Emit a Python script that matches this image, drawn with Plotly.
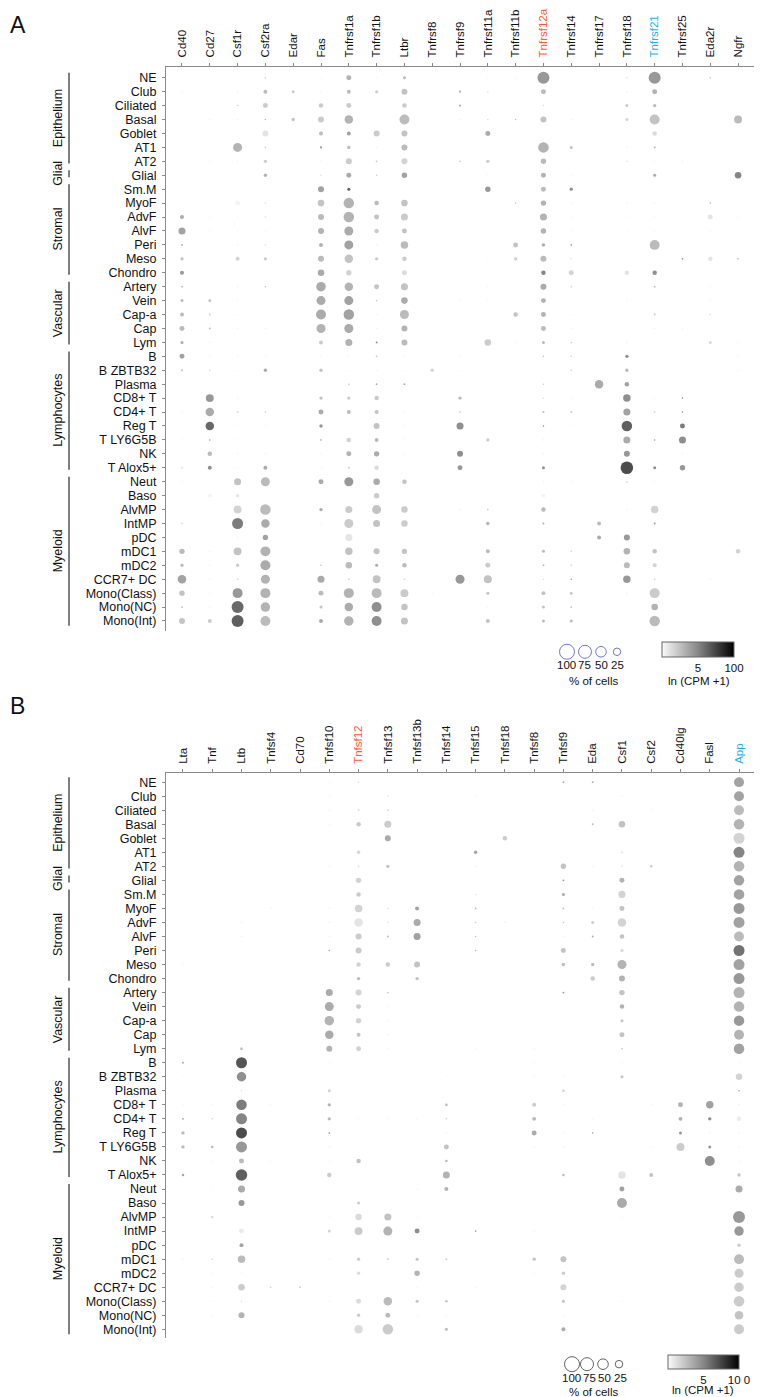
import plotly.graph_objects as go

# The page body has an 8px default margin, so the figure is drawn 8px in from the top-left.
PAGE_W, PAGE_H, OFF = 762, 1397, 8
W, H = PAGE_W - OFF, PAGE_H - OFF

cells = ["NE", "Club", "Ciliated", "Basal", "Goblet", "AT1", "AT2", "Glial", "Sm.M", "MyoF",
         "AdvF", "AlvF", "Peri", "Meso", "Chondro", "Artery", "Vein", "Cap-a", "Cap", "Lym",
         "B", "B ZBTB32", "Plasma", "CD8+ T", "CD4+ T", "Reg T", "T LY6G5B", "NK", "T Alox5+",
         "Neut", "Baso", "AlvMP", "IntMP", "pDC", "mDC1", "mDC2", "CCR7+ DC", "Mono(Class)",
         "Mono(NC)", "Mono(Int)"]
group_names = ["Epithelium", "Glial", "Stromal", "Vascular", "Lymphocytes", "Myeloid"]
group_sizes = [7, 1, 7, 5, 9, 11]

genes_A = ["Cd40", "Cd27", "Csf1r", "Csf2ra", "Edar", "Fas", "Tnfrsf1a", "Tnfrsf1b", "Ltbr",
           "Tnfrsf8", "Tnfrsf9", "Tnfrsf11a", "Tnfrsf11b", "Tnfrsf12a", "Tnfrsf14", "Tnfrsf17",
           "Tnfrsf18", "Tnfrsf21", "Tnfrsf25", "Eda2r", "Ngfr"]
genes_B = ["Lta", "Tnf", "Ltb", "Tnfsf4", "Cd70", "Tnfsf10", "Tnfsf12", "Tnfsf13", "Tnfsf13b",
           "Tnfsf14", "Tnfsf15", "Tnfsf18", "Tnfsf8", "Tnfsf9", "Eda", "Csf1", "Csf2", "Cd40lg",
           "Fasl", "App"]
highlight = {"Tnfrsf12a": "#ff5a32", "Tnfrsf21": "#1eb0ef", "Tnfsf12": "#ff5a32", "App": "#1eb0ef"}

# % of cells expressing (panel A)
pct_A = [
    [0, 0, 0, 1, 0, 0.6, 11, 0.6, 4, 0, 0, 0.6, 0.6, 64, 0, 0, 1, 64, 0, 1, 0],
    [0.6, 0, 0.6, 7, 4, 0.6, 7, 4, 16, 0, 2, 1, 0, 11, 0, 0, 0.6, 11, 0, 0, 0],
    [0, 0, 1, 11, 0, 9, 11, 0, 9, 0, 2, 0, 0, 1, 0, 0, 4, 5, 0, 0, 0],
    [0, 0.6, 0.6, 1, 5, 16, 32, 0, 44, 0, 0.6, 1, 1, 16, 0.6, 0, 4, 44, 0, 0, 28],
    [0, 0, 0, 16, 0, 7, 7, 16, 16, 0, 0, 11, 0, 0, 0, 0, 0, 9, 0, 0, 0],
    [0, 0, 36, 1, 0, 2, 5, 0.6, 16, 0, 0, 0, 0, 49, 4, 0, 0.6, 1.5, 0, 0, 0],
    [0, 0.6, 0.6, 5, 0, 0.6, 16, 1.5, 16, 0, 1.5, 5, 0, 13, 0, 0, 1, 0.6, 0.6, 0, 0],
    [0, 0, 0, 5, 0, 1, 11, 1, 13, 0, 0, 0.6, 0, 11, 0.6, 0, 0, 4, 0, 0, 19],
    [0, 0, 0, 0, 0, 16, 4, 0, 0, 0, 0, 13, 0, 11, 5, 0, 0, 0, 0, 0, 0],
    [0, 0, 11, 1, 0, 19, 49, 9, 19, 0, 0, 0, 1, 13, 0.6, 0, 0.6, 0.6, 0, 1, 0],
    [7, 0.6, 0.6, 1, 0, 16, 49, 11, 22, 0, 0, 0, 0, 22, 0.6, 0, 0.6, 0.6, 0, 11, 0.6],
    [22, 0.6, 0.6, 0.6, 0, 16, 36, 9, 11, 0, 0, 0, 0, 13, 0.6, 0, 0.6, 0.6, 0, 0.6, 0],
    [1.5, 0, 0.6, 1, 0, 7, 36, 0.6, 25, 0, 0, 0, 11, 5, 1.5, 0, 0, 44, 0, 0, 0],
    [5, 0, 7, 5, 0, 16, 32, 5, 9, 0, 0, 0.6, 5, 16, 1, 0, 0, 0, 1.5, 9, 1],
    [7, 0, 0, 0, 0, 19, 13, 0, 11, 0, 0, 0, 0, 9, 11, 0, 9, 9, 0, 0, 0],
    [1.5, 0, 0.6, 1, 0, 40, 32, 11, 22, 0, 0, 0.6, 0, 16, 1, 0, 0, 1.5, 0, 0.6, 0],
    [4, 4, 0.6, 0, 0, 36, 36, 1.5, 19, 0, 0.6, 0.6, 0, 11, 0, 0, 0.6, 0, 0, 0.6, 0],
    [7, 1.5, 0.6, 0, 0, 44, 49, 0.6, 36, 0, 0, 0, 9, 11, 0.6, 0, 0, 1.5, 0, 1, 0],
    [11, 1.5, 0.6, 0.6, 0, 36, 36, 0.6, 16, 0, 0, 0, 0, 11, 0.6, 0, 0, 0.6, 0.6, 0, 0],
    [4, 0.6, 0, 0, 0, 7, 22, 1.5, 16, 0, 0, 19, 0.6, 4, 1, 0, 0.6, 0, 0, 4, 0.6],
    [11, 0.6, 0.6, 0.6, 0, 0.6, 0.6, 1.5, 0.6, 0, 0.6, 0, 0, 1, 1, 0, 5, 0, 0, 0, 0.6],
    [1.5, 1, 0.6, 5, 0, 5, 0.6, 0.6, 0.6, 5, 0.6, 0, 0, 0, 1.5, 0, 5, 0, 0, 0, 0.6],
    [0, 0, 0, 0, 0, 0, 1, 1.5, 1.5, 0, 0, 0, 0, 1, 0, 32, 9, 0, 0, 0, 0],
    [0, 28, 0.6, 0, 0, 5, 5, 9, 0, 0, 5, 0, 0, 1.5, 0.6, 0, 25, 0.6, 1, 0, 0],
    [0.6, 32, 1.5, 1, 0, 11, 7, 7, 0.6, 0, 1, 0, 0, 2, 2, 0, 22, 1.5, 1, 0, 0],
    [0, 32, 0.6, 0.6, 0, 5, 0, 16, 0.6, 0, 22, 0, 0, 1, 0.6, 0, 49, 0, 11, 0, 0],
    [0.6, 1, 0.6, 0, 0, 1.5, 9, 7, 0.6, 0, 0, 5, 0, 0.6, 0, 0, 22, 1, 22, 0, 0],
    [0, 9, 0.6, 0.6, 0, 0.6, 11, 13, 0.6, 0, 16, 0, 0, 0.6, 0, 0, 16, 0, 0.6, 0, 0],
    [1.5, 7, 0.6, 7, 0, 0.6, 1.5, 9, 0, 0, 11, 0, 0, 4, 0, 0, 70, 4, 13, 0, 0],
    [0.6, 0, 22, 36, 0, 11, 36, 19, 9, 0, 0, 0, 0, 0.6, 0.6, 0, 1, 0.6, 0, 0, 0],
    [0, 7, 5, 0, 0, 0, 0, 13, 0, 0, 0, 0, 0, 7, 0, 0, 0, 0, 0, 0, 0],
    [0, 0, 28, 49, 0, 5, 22, 36, 19, 0, 0.6, 1, 0, 9, 0, 0, 0.6, 25, 0, 0, 0],
    [1, 0, 54, 32, 0, 0.6, 36, 22, 19, 0, 0, 5, 0, 1.5, 0, 7, 0, 1.5, 0, 0, 0],
    [0, 0, 0.6, 13, 0, 0, 22, 0, 0, 0, 0, 0, 0, 0, 0, 7, 16, 0, 0, 0, 0],
    [13, 0.6, 28, 44, 0, 0, 25, 16, 13, 0, 0, 7, 0, 4, 1, 0, 19, 9, 0, 0, 9],
    [4, 0.6, 5, 44, 0, 1, 19, 4, 9, 0, 0, 11, 0, 1.5, 1, 0, 16, 7, 0, 0, 0],
    [32, 0.6, 1.5, 36, 0, 22, 1.5, 28, 1.5, 0, 36, 28, 0, 1, 1, 0, 25, 1, 0, 0.6, 0],
    [13, 0.6, 44, 44, 0, 11, 44, 44, 28, 0.6, 0, 4, 0, 7, 4, 0, 0.6, 44, 0, 0, 0],
    [1.5, 0.6, 64, 40, 0, 4, 32, 44, 19, 0, 0, 0.6, 0, 4, 1.5, 0, 0, 19, 0, 0, 0],
    [16, 7, 64, 44, 0, 7, 40, 44, 22, 0, 0, 7, 0, 4, 4, 0, 0, 49, 0, 0, 0],
]
# mean expression, ln(CPM+1) scaled 0-10 (panel A)
expr_A = [
    [0, 0, 0, 3, 0, 1, 4.5, 1, 4, 0, 0, 1, 1, 6, 0, 0, 2, 6, 0, 4, 0],
    [1, 0, 1, 4, 3, 1, 4, 3, 3.5, 0, 5, 2, 0, 4, 0, 0, 1, 4.5, 0, 0, 0],
    [0, 0, 3, 3, 0, 3, 3, 0, 3, 0, 5, 0, 0, 2, 0, 0, 3, 4, 0, 0, 0],
    [0, 1, 1, 4, 3.5, 3, 4.5, 0, 4, 0, 1, 2, 4, 3.5, 1, 0, 2.5, 3.5, 0, 0, 4],
    [0, 0, 0, 1.5, 0, 4, 5.5, 3, 3.5, 0, 0, 5, 0, 0, 0, 0, 0, 2, 0, 0, 0],
    [0, 0, 4.5, 3, 0, 6, 4, 1, 4, 0, 0, 0, 0, 4.5, 3.5, 0, 1, 5, 0, 0, 0],
    [0, 1, 1, 3, 0, 1.5, 3, 3, 2.5, 0, 3, 3, 0, 4, 0, 0, 2, 1, 1, 0, 0],
    [0, 0, 0, 4.5, 0, 2, 5, 3, 5.5, 0, 0, 1, 0, 4.5, 1, 0, 0, 5, 0, 0, 7],
    [0, 0, 0, 0, 0, 5.5, 9, 0, 0, 0, 0, 6, 0, 4, 6.5, 0, 0, 0, 0, 0, 0],
    [0, 0, 0.5, 2, 0, 3.5, 4.5, 4, 3.5, 0, 0, 0, 4, 4.5, 1, 0, 1, 1, 0, 5, 0],
    [5, 1, 1, 2, 0, 4, 4.5, 3.5, 3, 0, 0, 0, 0, 4.5, 1, 0, 1, 1, 0, 1.5, 1],
    [5.5, 1, 1, 1, 0, 4.5, 5, 3, 3.5, 0, 0, 0, 0, 4.5, 1, 0, 1, 1, 0, 1, 0],
    [5, 0, 1, 2, 0, 4.5, 5.5, 1, 4, 0, 0, 0, 3.5, 5, 5, 0, 0, 4, 0, 0, 0],
    [3.5, 0, 2.5, 3, 0, 4, 3.5, 3, 3, 0, 0, 1, 3, 4, 2, 0, 0, 0, 6, 1.5, 5],
    [6, 0, 0, 0, 0, 5, 2.5, 0, 2, 0, 0, 0, 0, 7, 2.5, 0, 1.5, 6.5, 0, 0, 0],
    [4, 0, 1, 4, 0, 5, 4.5, 3.5, 3.5, 0, 0, 1, 0, 5, 3, 0, 0, 4, 0, 1, 0],
    [4, 3.5, 1, 0, 0, 5, 5.5, 3, 5, 0, 1, 1, 0, 4.5, 0, 0, 1, 0, 0, 1, 0],
    [4, 3, 1, 0, 0, 5, 5.5, 1, 4, 0, 0, 0, 3.5, 4.5, 1, 0, 0, 3, 0, 2, 0],
    [4, 4, 1, 1, 0, 4.5, 5, 1, 4.5, 0, 0, 0, 0, 4, 1, 0, 0, 1, 1, 0, 0],
    [5, 1, 0, 0, 0, 3, 4.5, 7, 4, 0, 0, 3, 1, 4, 3, 0, 1, 0, 0, 2, 1],
    [5.5, 1, 1, 1, 0, 1, 1, 3, 1, 0, 1, 0, 0, 4, 3, 0, 6.5, 0, 0, 0, 1],
    [4, 3, 1, 5, 0, 3.5, 1, 1, 1, 2.5, 1, 0, 0, 0, 2, 0, 4, 0, 0, 0, 1],
    [0, 0, 0, 0, 0, 0, 4, 5, 5, 0, 0, 0, 0, 3, 0, 5, 5.5, 0, 0, 0, 0],
    [0, 6, 1, 0, 0, 3.5, 3, 3, 0, 0, 4, 0, 0, 1.5, 1, 0, 6.5, 1, 7, 0, 0],
    [1, 5, 3, 3, 0, 5, 4, 3.5, 1, 0, 4, 0, 0, 4, 3, 0, 5.5, 2.5, 7, 0, 0],
    [0, 8.5, 1, 1, 0, 6, 0, 3.5, 1, 0, 6.5, 0, 0, 7, 1, 0, 9, 0, 7.5, 0, 0],
    [1, 6, 1, 0, 0, 4, 2.5, 4, 1, 0, 0, 3, 0, 1, 0, 0, 5, 6, 6.5, 0, 0],
    [0, 4, 1, 1, 0, 1, 4.5, 5, 1, 0, 6.5, 0, 0, 1, 0, 0, 6, 0, 1, 0, 0],
    [2, 6.5, 1, 5, 0, 1, 3, 2, 0, 0, 6, 0, 0, 6.5, 0, 0, 10, 6.5, 6, 0, 0],
    [1, 0, 3.5, 4, 0, 5, 6, 5, 3.5, 0, 0, 0, 0, 1, 1, 0, 3, 1, 0, 0, 0],
    [0, 0.5, 1.5, 0, 0, 0, 0, 3, 0, 0, 0, 0, 0, 0.5, 0, 0, 0, 0, 0, 0, 0],
    [0, 0, 2.5, 4, 0, 5, 3, 3.5, 3, 0, 1, 4, 0, 4, 0, 0, 1, 2.5, 0, 0, 0],
    [3, 0, 7.5, 5, 0, 1, 3, 3.5, 3, 0, 0, 4.5, 0, 5, 0, 4, 0, 6, 0, 0, 0],
    [0, 0, 1, 5.5, 0, 0, 1.5, 0, 0, 0, 0, 0, 0, 0, 0, 5, 6, 0, 0, 0, 0],
    [4, 1, 3.5, 4.5, 0, 0, 3.5, 3.5, 3.5, 0, 0, 4, 0, 4, 3, 0, 4.5, 3.5, 0, 0, 2.5],
    [4.5, 1, 3, 5, 0, 4, 4, 5, 4, 0, 0, 3, 0, 4, 3, 0, 4, 2.5, 0, 0, 0],
    [5.5, 1, 2, 4.5, 0, 5, 2.5, 3.5, 2, 0, 6, 3.5, 0, 2, 6, 0, 6, 3, 0, 1, 0],
    [3.5, 1, 6, 4.5, 0, 4, 4.5, 4, 3, 1, 0, 3.5, 0, 3.5, 3, 0, 1, 3, 0, 0, 0],
    [4, 1, 8.5, 4.5, 0, 3.5, 5, 6.5, 3.5, 0, 0, 1, 0, 3.5, 3.5, 0, 0, 4.5, 0, 0, 0],
    [3.5, 3, 9, 4, 0, 5, 4.5, 6.5, 3.5, 0, 0, 3.5, 0, 4, 4, 0, 0, 4, 0, 0, 0],
]

# % of cells expressing (panel B)
pct_B = [
    [0, 0, 0, 0, 0, 0.6, 1, 0, 0, 0, 0, 0, 0, 1.5, 1.5, 0, 0, 0, 0, 44],
    [0, 0, 0, 0, 0, 0.6, 0, 1, 0, 0, 0.6, 0, 0, 0, 0, 0.6, 0, 0, 0, 44],
    [0, 0, 0, 0, 0, 0.6, 1.5, 1.5, 0, 0, 0, 0, 0, 0, 0.6, 0, 0.6, 0, 0, 44],
    [0, 0, 0, 0, 0, 0.6, 9, 22, 0, 0, 0, 0, 0, 0, 1.5, 19, 0, 0, 0, 49],
    [0, 0, 0, 0, 0, 0, 0, 16, 0, 0, 0, 9, 0, 0, 0, 0, 0, 0, 0, 54],
    [0, 0, 0, 0, 0, 0, 5, 0, 0, 0, 5, 0, 0, 0, 0, 1, 0, 0, 0, 54],
    [0, 0, 0, 0, 0, 0.6, 1.5, 5, 0, 0, 0.6, 0, 0, 13, 0.6, 1, 3, 0, 0, 49],
    [0, 0, 0, 0, 0, 0, 13, 0, 0, 0, 0, 0, 0, 1.5, 0, 11, 0, 0, 0, 49],
    [0, 0, 0, 0, 0, 0, 9, 0, 0, 0, 1.5, 0, 0, 4, 0, 22, 0, 0, 0, 49],
    [0, 0, 0, 0.6, 0, 0.6, 25, 1, 7, 0, 1.5, 0, 0, 1.5, 0.6, 11, 0, 0, 0, 54],
    [0, 0, 0.6, 0, 0, 0.6, 32, 1, 22, 0, 1, 0.6, 0, 1, 4, 32, 0, 0, 0, 54],
    [0, 0, 0.6, 0, 0, 0.6, 16, 1.5, 22, 0, 1, 0, 0, 0.6, 1.5, 9, 0, 0, 0, 44],
    [0, 0, 0, 0, 0, 1, 16, 0, 0, 0, 1, 0, 0, 11, 0, 5, 0, 0, 0, 54],
    [0.6, 0, 0, 0, 0, 0, 9, 9, 16, 0, 0, 0, 0, 5, 5, 36, 0, 0, 0, 54],
    [0, 0, 0, 0, 0, 0, 5, 0, 5, 0, 0, 0, 0, 0, 9, 16, 0, 0, 0, 54],
    [0, 0, 0, 0, 0, 22, 16, 1.5, 0, 0, 0, 0, 0, 1.5, 0, 13, 0, 0, 0, 54],
    [0, 0, 0, 0, 0, 36, 11, 0.6, 0, 0, 0, 0, 0, 0, 0, 9, 0, 0, 0, 49],
    [0, 0, 0, 0, 0, 40, 13, 0.6, 0, 0, 0, 0, 0, 0, 0, 4, 0, 0, 0, 49],
    [0, 0, 0, 0, 0, 32, 7, 0.6, 0, 0, 0, 0, 0, 0, 0, 11, 0, 0, 0, 44],
    [0, 0, 4, 0, 0, 16, 11, 0.6, 0, 0, 0.6, 0, 0.6, 0, 0, 1.5, 0, 0, 0, 49],
    [1.5, 0, 54, 0, 0, 0.6, 0, 0, 0, 0, 0, 0, 0.6, 0, 0, 0.6, 0, 0, 0, 0.6],
    [0.6, 0, 40, 0, 0, 0, 0, 0, 0, 0.6, 0, 0, 0.6, 0.6, 0, 4, 0, 0, 0, 19],
    [0, 0, 1, 0, 0, 4, 0, 0, 0, 0, 0, 0, 0, 3, 0, 0, 0, 0, 0, 1],
    [0.6, 0.6, 49, 0.6, 0, 5, 0, 0, 0, 3, 0, 0, 7, 0.6, 0, 0, 0.6, 11, 25, 1],
    [1.5, 1, 54, 0, 0, 5, 0.6, 0.6, 0.6, 1, 0, 0, 7, 0, 0.6, 0, 0, 7, 5, 9],
    [5, 0, 54, 0, 0, 1.5, 0, 0, 0, 0.6, 0, 0, 11, 0.6, 1, 0, 0, 4, 0.6, 0.6],
    [5, 3, 54, 0, 0, 0.6, 0, 0, 0, 11, 0, 0, 0.6, 0.6, 0, 0, 0.6, 28, 4, 0.6],
    [0, 0.6, 11, 0.6, 0, 0.6, 9, 0, 0, 3, 0, 0, 0, 0, 0, 0, 0, 0, 44, 0.6],
    [3, 0, 59, 0, 0, 9, 0, 0, 0, 22, 0, 0, 0, 3, 0, 25, 7, 0, 0, 5],
    [0, 0.6, 22, 0, 0, 0, 0, 0, 0.6, 7, 0, 0, 0, 0, 0, 11, 0, 0, 0, 22],
    [0, 0, 16, 0, 0, 0, 4, 0, 0, 0, 0, 0, 0, 0, 0, 44, 0, 0, 0, 0.6],
    [0, 3, 0, 0, 0, 0.6, 19, 22, 0.6, 0, 0, 0, 0, 0, 0, 0.6, 0, 0, 0, 64],
    [0, 0, 11, 0, 0, 4, 28, 36, 11, 0, 1.5, 0, 0.6, 0, 0, 0, 0, 0, 0, 40],
    [0, 0, 7, 0, 0, 0, 0, 0, 0, 0, 0, 0, 0, 0, 0, 0, 0, 0, 0, 5],
    [0.6, 1, 25, 0, 0, 0.6, 5, 1.5, 4, 1.5, 0, 0, 5, 16, 0, 0, 0, 0, 0, 44],
    [0, 0.6, 0.6, 0, 0, 0, 5, 0, 13, 0, 0, 0, 0.6, 5, 0, 0, 0, 0, 0, 36],
    [0, 0.6, 19, 1, 1.5, 0, 0, 0, 0.6, 0, 0.6, 0, 0, 16, 0, 0, 0, 0, 0, 40],
    [0, 0.6, 1, 0, 0, 0.6, 11, 32, 4, 3, 0, 0, 0, 4, 0, 0.6, 0, 0, 0, 49],
    [0, 0.6, 16, 0, 0, 0, 5, 11, 0.6, 0.6, 0, 0, 0, 0.6, 0, 0, 0, 0, 0, 32],
    [0, 0, 0, 0, 0, 0, 32, 49, 0, 4, 0, 0, 0, 7, 0, 0, 0, 0, 0, 44],
]
# mean expression, ln(CPM+1) scaled 0-10 (panel B)
expr_B = [
    [0, 0, 0, 0, 0, 1, 2, 0, 0, 0, 0, 0, 0, 5, 5, 0, 0, 0, 0, 5.5],
    [0, 0, 0, 0, 0, 1, 0, 1.5, 0, 0, 1, 0, 0, 0, 0, 1, 0, 0, 0, 5.5],
    [0, 0, 0, 0, 0, 1, 2.5, 2.5, 0, 0, 0, 0, 0, 0, 1, 0, 1, 0, 0, 4],
    [0, 0, 0, 0, 0, 1, 3, 3, 0, 0, 0, 0, 0, 0, 4, 3.5, 0, 0, 0, 4.5],
    [0, 0, 0, 0, 0, 0, 0, 5, 0, 0, 0, 3, 0, 0, 0, 0, 0, 0, 0, 2.5],
    [0, 0, 0, 0, 0, 0, 2.5, 0, 0, 0, 5.5, 0, 0, 0, 0, 3, 0, 0, 0, 7],
    [0, 0, 0, 0, 0, 1, 2, 3.5, 0, 0, 1, 0, 0, 3.5, 1, 2, 3, 0, 0, 4.5],
    [0, 0, 0, 0, 0, 0, 2.5, 0, 0, 0, 0, 0, 0, 6, 0, 4.5, 0, 0, 0, 5.5],
    [0, 0, 0, 0, 0, 0, 3, 0, 0, 0, 1, 0, 0, 5, 0, 2.5, 0, 0, 0, 5.5],
    [0, 0, 0, 1, 0, 1, 2.5, 2, 5.5, 0, 4, 0, 0, 4, 1, 3.5, 0, 0, 0, 6],
    [0, 0, 1, 0, 0, 1, 1.5, 2, 5, 0, 3, 1, 0, 3.5, 3, 2.5, 0, 0, 0, 5.5],
    [0, 0, 1, 0, 0, 1, 3, 4, 5.5, 0, 4, 0, 0, 1, 5, 3.5, 0, 0, 0, 4],
    [0, 0, 0, 0, 0, 6, 3, 0, 0, 0, 4, 0, 0, 3.5, 0, 2, 0, 0, 0, 8],
    [1, 0, 0, 0, 0, 0, 2.5, 3, 3.5, 0, 0, 0, 0, 4, 4, 4.5, 0, 0, 0, 5.5],
    [0, 0, 0, 0, 0, 0, 4, 0, 3.5, 0, 0, 0, 0, 0, 3, 4.5, 0, 0, 0, 6],
    [0, 0, 0, 0, 0, 5, 2.5, 3, 0, 0, 0, 0, 0, 6, 0, 3.5, 0, 0, 0, 4.5],
    [0, 0, 0, 0, 0, 5, 3, 1, 0, 0, 0, 0, 0, 0, 0, 4.5, 0, 0, 0, 4.5],
    [0, 0, 0, 0, 0, 4.5, 2.5, 1, 0, 0, 0, 0, 0, 0, 0, 3.5, 0, 0, 0, 6],
    [0, 0, 0, 0, 0, 5, 3.5, 1, 0, 0, 0, 0, 0, 0, 0, 3.5, 0, 0, 0, 4.5],
    [0, 0, 3.5, 0, 0, 4.5, 2.5, 1, 0, 0, 1, 0, 1, 0, 0, 3, 0, 0, 0, 5.5],
    [5, 0, 9.5, 0, 0, 1, 0, 0, 0, 0, 0, 0, 1, 0, 0, 1, 0, 0, 0, 1],
    [1, 0, 6.5, 0, 0, 0, 0, 0, 0, 1, 0, 0, 1, 1, 0, 3.5, 0, 0, 0, 2.5],
    [0, 0, 2, 0, 0, 2.5, 0, 0, 0, 0, 0, 0, 0, 2.5, 0, 0, 0, 0, 0, 6],
    [1, 1, 7.5, 1, 0, 4.5, 0, 0, 0, 4, 0, 0, 3, 1, 0, 0, 1, 4.5, 5.5, 1],
    [5.5, 3, 7, 0, 0, 4, 1, 1, 1, 3, 0, 0, 4, 0, 1, 0, 0, 4.5, 6.5, 1],
    [4, 0, 10, 0, 0, 5.5, 0, 0, 0, 1, 0, 0, 5, 1, 6, 0, 0, 6, 1, 1],
    [4, 4, 6, 0, 0, 1, 0, 0, 0, 3.5, 0, 0, 1, 1, 0, 0, 1, 3, 6, 1],
    [0, 1, 4, 1, 0, 1, 3.5, 0, 0, 4, 0, 0, 0, 0, 0, 0, 0, 0, 6.5, 1],
    [5, 0, 9, 0, 0, 3, 0, 0, 0, 4.5, 0, 0, 0, 4, 0, 1.5, 3.5, 0, 0, 3.5],
    [0, 1, 5, 0, 0, 0, 0, 0, 1, 4.5, 0, 0, 0, 0, 0, 5.5, 0, 0, 0, 5],
    [0, 0, 6, 0, 0, 0, 3, 0, 0, 0, 0, 0, 0, 0, 0, 5, 0, 0, 0, 0.5],
    [0, 2, 0, 0, 0, 1, 2, 3.5, 1, 0, 0, 0, 0, 0, 0, 1, 0, 0, 0, 6],
    [0, 0, 1, 0, 0, 2.5, 3, 4.5, 6.5, 0, 5.5, 0, 1, 0, 0, 0, 0, 0, 0, 6],
    [0, 0, 5.5, 0, 0, 0, 0, 0, 0, 0, 0, 0, 0, 0, 0, 0, 0, 0, 0, 3],
    [1, 3, 4, 0, 0, 1, 3, 3, 3.5, 3.5, 0, 0, 3.5, 3.5, 0, 0, 0, 0, 0, 4],
    [0, 1, 1, 0, 0, 0, 2, 0, 4.5, 0, 0, 0, 1, 3, 0, 0, 0, 0, 0, 3],
    [0, 1, 3, 3, 3, 0, 0, 0, 1, 0, 1, 0, 0, 2.5, 0, 0, 0, 0, 0, 3],
    [0, 1, 2, 0, 0, 1, 2, 4, 3.5, 3.5, 0, 0, 0, 3.5, 0, 1, 0, 0, 0, 3],
    [0, 1, 4.5, 0, 0, 0, 3, 4, 1, 1, 0, 0, 0, 1, 0, 0, 0, 0, 0, 3.5],
    [0, 0, 0, 0, 0, 0, 2, 3, 0, 4, 0, 0, 0, 5, 0, 0, 0, 0, 0, 3],
]

legend_pcts = [100, 75, 50, 25]
legend_labels = ["100", "75", "50", "25"]

# ---------------- styling / layout constants ----------------
FONT = "Liberation Sans, Arial, Helvetica, sans-serif"
SCALE = [[0, "rgb(250,250,250)"], [0.5, "rgb(135,135,135)"], [1, "rgb(0,0,0)"]]
MAXD = 15.0  # px diameter of a 100% dot
SIZEREF = 2.0 * 100 / MAXD ** 2
AXC = "#8a8a8a"


def px_x(p):
    # page pixel -> paper fraction
    return (p - OFF) / W


def px_y(p):
    return 1 - (p - OFF) / H


panels = {
    "A": dict(genes=genes_A, P=pct_A, C=expr_A, xa="x", ya="y", xdom=(166, 762), ydom=(60, 627),
              xr=(-0.575, 20.86), yr=(39.71, -0.79), letter_y=18,
              cb=dict(cx=698, top=638, len=72, th=15, ticks=["5", "100"]),
              leg=dict(xs=[567, 585, 601, 617], y=648, lxs=[566, 584, 601, 617], ly=661, py=677,
                       pcx=593, lnx=699, lny=677, col="#3b3bc4")),
    "B": dict(genes=genes_B, P=pct_B, C=expr_B, xa="x2", ya="y2", xdom=(166, 756), ydom=(770, 1338),
              xr=(-0.58, 19.58), yr=(39.64, -0.64), letter_y=702,
              cb=dict(cx=703.5, top=1355, len=71, th=14, ticks=["5", "10 0"]),
              leg=dict(xs=[572, 587, 603, 619], y=1364, lxs=[571, 589, 604, 620], ly=1378, py=1392,
                       pcx=593, lnx=703, lny=1390, col="#222222")),
}

fig = go.Figure()
shapes, annotations = [], []
layout_axes = {}

for key, pn in panels.items():
    genes, P, C = pn["genes"], pn["P"], pn["C"]
    xs, ys, ss, cs = [], [], [], []
    for i, cell in enumerate(cells):
        for j, g in enumerate(genes):
            if P[i][j] > 0:
                xs.append(g)
                ys.append(cell)
                ss.append(P[i][j])
                cs.append(C[i][j])
    cb = pn["cb"]
    fig.add_trace(go.Scatter(
        x=xs, y=ys, mode="markers", xaxis=pn["xa"], yaxis=pn["ya"], showlegend=False,
        hoverinfo="skip", cliponaxis=False,
        marker=dict(size=ss, sizemode="area", sizeref=SIZEREF, color=cs, cmin=0, cmax=10,
                    colorscale=SCALE, line=dict(width=0), showscale=True,
                    colorbar=dict(orientation="h", x=px_x(cb["cx"]), xanchor="center", xref="paper",
                                  y=px_y(cb["top"]), yanchor="top", yref="paper",
                                  len=cb["len"], lenmode="pixels", thickness=cb["th"],
                                  thicknessmode="pixels", xpad=0, ypad=0,
                                  outlinewidth=1, outlinecolor="#666",
                                  tickvals=[5, 10], ticktext=cb["ticks"], ticks="",
                                  tickfont=dict(family=FONT, size=11.5, color="#111")))))

    xname = "xaxis" if pn["xa"] == "x" else "xaxis2"
    yname = "yaxis" if pn["ya"] == "y" else "yaxis2"
    ticktext = [f"<span style='color:{highlight[g]}'>{g}</span>" if g in highlight else g for g in genes]
    layout_axes[xname] = dict(
        domain=[px_x(pn["xdom"][0]), min(1.0, px_x(pn["xdom"][1]))], anchor=pn["ya"], side="top",
        type="category", categoryorder="array", categoryarray=genes, range=list(pn["xr"]),
        tickmode="array", tickvals=genes, ticktext=ticktext, tickangle=-90, ticklabelstandoff=3,
        showline=True, linecolor=AXC, linewidth=1, ticks="outside", ticklen=3, tickcolor=AXC,
        showgrid=False, zeroline=False, tickfont=dict(family=FONT, size=11.5, color="#111"))
    layout_axes[yname] = dict(
        domain=[px_y(pn["ydom"][1]), px_y(pn["ydom"][0])], anchor=pn["xa"],
        type="category", categoryorder="array", categoryarray=cells, range=list(pn["yr"]),
        tickmode="array", tickvals=cells, ticktext=cells, ticklabelstandoff=3,
        showline=True, linecolor=AXC, linewidth=1, ticks="outside", ticklen=3, tickcolor=AXC,
        showgrid=False, zeroline=False, tickfont=dict(family=FONT, size=12.5, color="#111"))

    # row index -> page pixel y
    y0p, y1p = pn["ydom"]
    r_top, r_bot = pn["yr"][1], pn["yr"][0]

    def row_px(r, y0p=y0p, y1p=y1p, r_top=r_top, r_bot=r_bot):
        return y0p + (r - r_top) / (r_bot - r_top) * (y1p - y0p)

    start = 0
    for gi, (gname, gsize) in enumerate(zip(group_names, group_sizes)):
        end = start + gsize - 1
        top = row_px(start - 0.35)
        bot = row_px(end + (0.35 if gi == len(group_names) - 1 else 0.15))
        shapes.append(dict(type="line", xref="paper", yref="paper", x0=px_x(69), x1=px_x(69),
                           y0=px_y(top), y1=px_y(bot), line=dict(color="#555", width=1.5)))
        annotations.append(dict(text=gname, xref="paper", yref="paper", x=px_x(58),
                                y=px_y((top + bot) / 2), textangle=-90, showarrow=False,
                                xanchor="center", yanchor="middle",
                                font=dict(family=FONT, size=12.5, color="#111")))
        start = end + 1

    annotations.append(dict(text=key, xref="paper", yref="paper", x=px_x(OFF), y=px_y(pn["letter_y"]),
                            xanchor="left", yanchor="middle", showarrow=False,
                            font=dict(family=FONT, size=23, color="#111")))

    lg = pn["leg"]
    fig.add_trace(go.Scatter(
        x=lg["xs"], y=[lg["y"]] * len(legend_pcts), mode="markers", xaxis="x3", yaxis="y3",
        showlegend=False, hoverinfo="skip",
        marker=dict(size=legend_pcts, sizemode="area", sizeref=SIZEREF, color="rgba(255,255,255,0)",
                    line=dict(color=lg["col"], width=1))))
    for xv, lab in zip(lg["lxs"], legend_labels):
        annotations.append(dict(text=lab, xref="paper", yref="paper", x=px_x(xv), y=px_y(lg["ly"]),
                                xanchor="center", yanchor="middle", showarrow=False,
                                font=dict(family=FONT, size=11.5, color="#111")))
    annotations.append(dict(text="% of cells", xref="paper", yref="paper", x=px_x(lg["pcx"]),
                            y=px_y(lg["py"]), xanchor="center", yanchor="middle", showarrow=False,
                            font=dict(family=FONT, size=11.5, color="#111")))
    annotations.append(dict(text="ln (CPM +1)", xref="paper", yref="paper", x=px_x(lg["lnx"]),
                            y=px_y(lg["lny"]), xanchor="center", yanchor="middle", showarrow=False,
                            font=dict(family=FONT, size=11.5, color="#111")))

layout_axes["xaxis3"] = dict(domain=[0, 1], range=[OFF, PAGE_W], visible=False, anchor="y3")
layout_axes["yaxis3"] = dict(domain=[0, 1], range=[PAGE_H, OFF], visible=False, anchor="x3")

fig.update_layout(
    width=W, height=H, margin=dict(l=0, r=0, t=0, b=0, pad=0),
    paper_bgcolor="white", plot_bgcolor="rgba(0,0,0,0)",
    font=dict(family=FONT, color="#111"),
    shapes=shapes, annotations=annotations, **layout_axes)

fig.write_html("out.html")
